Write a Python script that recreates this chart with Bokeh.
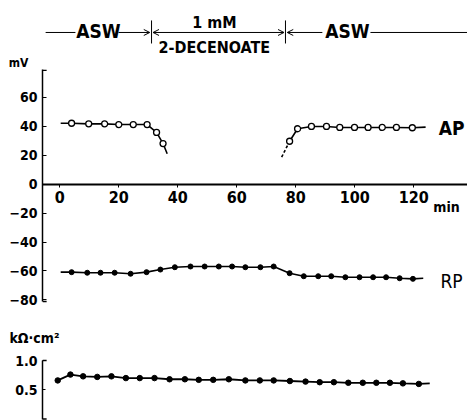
from bokeh.plotting import figure
from bokeh.models import LinearAxis, Range1d, FixedTicker, Label, Arrow, OpenHead
from bokeh.layouts import column
from bokeh.embed import file_html
from bokeh.resources import INLINE

# ---------------- data ----------------
# Action potential amplitude (mV), open circles
ap_early_t = [0.3, 4.0, 9.8, 15.2, 20.0, 24.9, 29.6, 32.8, 35.0, 36.4]
ap_early_v = [41.9, 41.9, 41.5, 41.5, 41.0, 41.0, 41.0, 35.6, 27.9, 20.9]
ap_late_t = [75.2, 77.9, 80.6, 85.3, 90.4, 94.9, 99.9, 104.5, 109.3, 114.1, 119.5, 124.0]
ap_late_v = [18.5, 29.5, 38.1, 39.7, 39.7, 39.0, 39.0, 39.0, 39.0, 39.0, 38.8, 39.2]

# Resting potential (mV), filled dots
rp_t = [0.3, 4.0, 9.3, 13.8, 18.6, 24.0, 29.4, 34.1, 39.0, 44.3, 49.1, 53.9, 58.4,
        62.9, 68.0, 72.5, 77.9, 82.7, 87.6, 92.0, 96.8, 101.6, 106.2, 110.6, 115.2,
        119.7, 123.2]
rp_v = [-60.8, -60.8, -61.2, -61.2, -61.2, -61.9, -60.8, -59.0, -57.4, -56.9, -56.9,
        -56.9, -56.9, -57.4, -57.4, -56.9, -61.5, -63.6, -63.6, -63.6, -64.3, -64.3,
        -64.3, -64.3, -65.0, -65.4, -65.0]

# Membrane resistance (kOhm cm2), filled dots
rm_t = [-0.7, 3.6, 7.9, 12.7, 17.5, 22.4, 27.1, 32.1, 37.2, 42.4, 47.1, 52.0, 57.3,
        62.9, 67.8, 72.5, 78.0, 83.3, 88.1, 92.9, 97.8, 102.7, 107.3, 111.9, 116.3,
        121.7, 125.4]
rm_g = [0.66, 0.76, 0.73, 0.72, 0.73, 0.70, 0.70, 0.70, 0.68, 0.68, 0.67, 0.67, 0.68,
        0.66, 0.66, 0.66, 0.65, 0.64, 0.63, 0.63, 0.62, 0.62, 0.62, 0.62, 0.61,
        0.60, 0.61]

x_ticks = [0, 20, 40, 60, 80, 100, 120]
mv_ticks = [-80, -60, -40, -20, 0, 20, 40, 60]
mv_tick_labels = ["\u221280", "\u221260", "\u221240", "\u221220", "0", "20", "40", "60"]
rm_ticks = [0.5, 1.0]
rm_tick_labels = ["0.5", "1.0"]
switch_times = [31.1, 76.5]   # ASW -> decenoate -> ASW

FONT = "DejaVu Sans Condensed"
XF0 = -20.1            # x at the left window edge (full-width strips)
X0, X1 = -5.864, 138.2 # x at the y-axis / right edge (plot panels)

def style_axis(ax, size, style="bold"):
    ax.axis_line_color = "black"
    ax.major_tick_line_color = "black"
    ax.minor_tick_line_color = None
    ax.major_label_text_color = "black"
    ax.major_label_text_font = FONT
    ax.major_label_text_font_style = style
    ax.major_label_text_font_size = size

def make_fig(h, x0, yr, left):
    f = figure(width=467, height=h, x_range=Range1d(x0, X1), y_range=yr,
               output_backend="svg", toolbar_location=None,
               x_axis_location=None, y_axis_location=None,
               min_border_left=left, min_border_right=0, min_border_top=0,
               min_border_bottom=0, outline_line_color=None,
               background_fill_color="white", border_fill_color="white",
               frame_align=False)
    f.grid.visible = False
    return f

def lab(fig, x, y, text, size, style="bold"):
    fig.add_layout(Label(x=x, y=y, text=text, text_font=FONT, text_font_size=size,
                         text_font_style=style, text_align="center",
                         text_baseline="middle", text_color="black"))

# ---------------- header strip (solution bar + unit) ----------------
p0 = make_fig(69, XF0, Range1d(78.97, 126.55), 0)
HY = 104.5
t1, t2 = switch_times
p0.segment(x0=[t1, t2], y0=[96.9, 96.9], x1=[t1, t2], y1=[112.8, 112.8],
           line_color="black", line_width=1)
p0.segment(x0=[-4.8, 105.3], y0=[HY, HY], x1=[5.3, X1], y1=[HY, HY],
           line_color="black", line_width=1)
p0.add_layout(Arrow(x_start=19.9, y_start=HY, x_end=t1 - 0.6, y_end=HY,
                    end=OpenHead(size=6, line_width=1), line_width=1))
p0.add_layout(Arrow(x_start=t1 + 0.5, y_start=HY, x_end=t2 - 0.5, y_end=HY,
                    start=OpenHead(size=6, line_width=1),
                    end=OpenHead(size=6, line_width=1), line_width=1))
p0.add_layout(Arrow(x_start=89.0, y_start=HY, x_end=t2 + 0.6, y_end=HY,
                    end=OpenHead(size=6, line_width=1), line_width=1))
lab(p0, 13.1, 105.2, "ASW", "19px")
lab(p0, 52.4, 111.4, "1 mM", "16px")
lab(p0, 52.4, 94.1, "2-DECENOATE", "16px")
lab(p0, 97.5, 105.2, "ASW", "19px")
lab(p0, -14.0, 83.6, "mV", "12px")

# ---------------- mV panel ----------------
p1 = make_fig(249, X0, Range1d(-92.76, 78.97), 42)
yax = LinearAxis(bounds=(-81, 78.97), ticker=FixedTicker(ticks=mv_ticks),
                 major_label_overrides=dict(zip(mv_ticks, mv_tick_labels)),
                 major_tick_in=4, major_tick_out=0, major_label_standoff=5,
                 axis_line_width=1.5)
style_axis(yax, "14px")
p1.add_layout(yax, "left")

xax = LinearAxis(fixed_location=0, bounds=(X0, X1),
                 ticker=FixedTicker(ticks=x_ticks),
                 major_tick_in=0, major_tick_out=3, major_label_standoff=4,
                 axis_line_width=2)
style_axis(xax, "16px")
p1.add_layout(xax, "below")

p1.segment(x0=[X0, X0], y0=[78.4, -81], x1=[X0 + 1.4, X0 + 1.4], y1=[78.4, -81],
           line_color="black", line_width=1.5)

# AP before decenoate
p1.line(ap_early_t, ap_early_v, line_color="black", line_width=1.6)
p1.scatter(ap_early_t[1:-1], ap_early_v[1:-1], marker="circle", size=6,
           fill_color="white", line_color="black", line_width=1.3)
# AP recovery
p1.line(ap_late_t[:2], ap_late_v[:2], line_color="black", line_width=1.6, line_dash="3 2")
p1.line(ap_late_t[1:], ap_late_v[1:], line_color="black", line_width=1.6)
p1.scatter(ap_late_t[1:-1], ap_late_v[1:-1], marker="circle", size=6,
           fill_color="white", line_color="black", line_width=1.3)
# RP
p1.line(rp_t, rp_v, line_color="black", line_width=1.6)
p1.scatter(rp_t[1:-1], rp_v[1:-1], marker="circle", size=5,
           fill_color="black", line_color="black")

lab(p1, 132.8, 38.3, "AP", "19px")
lab(p1, 132.8, -66.6, "RP", "19px", style="normal")
lab(p1, 131.1, -16.2, "min", "14px")

# ---------------- unit strip for resistance ----------------
p2a = make_fig(32, XF0, Range1d(1.171, 1.717), 0)
lab(p2a, -8.6, 1.392, "k\u03a9\u00b7cm\u00b2", "14px")

# ---------------- resistance panel ----------------
p2 = make_fig(70, X0, Range1d(-0.0239, 1.171), 42)
gax = LinearAxis(bounds=(0, 1.0), ticker=FixedTicker(ticks=rm_ticks),
                 major_label_overrides=dict(zip(rm_ticks, rm_tick_labels)),
                 major_tick_in=3, major_tick_out=0, major_label_standoff=5,
                 axis_line_width=1.5)
style_axis(gax, "14px")
p2.add_layout(gax, "left")
p2.segment(x0=[X0, X0], y0=[1.0, 0.0], x1=[X0 + 1.4, X0 + 1.4], y1=[1.0, 0.0],
           line_color="black", line_width=1.5)

p2.line(rm_t, rm_g, line_color="black", line_width=1.8)
p2.scatter(rm_t[:-1], rm_g[:-1], marker="circle", size=5.5,
           fill_color="black", line_color="black")

layout = column(p0, p1, p2a, p2, spacing=0)
open("out.html", "w").write(file_html(layout, INLINE))
